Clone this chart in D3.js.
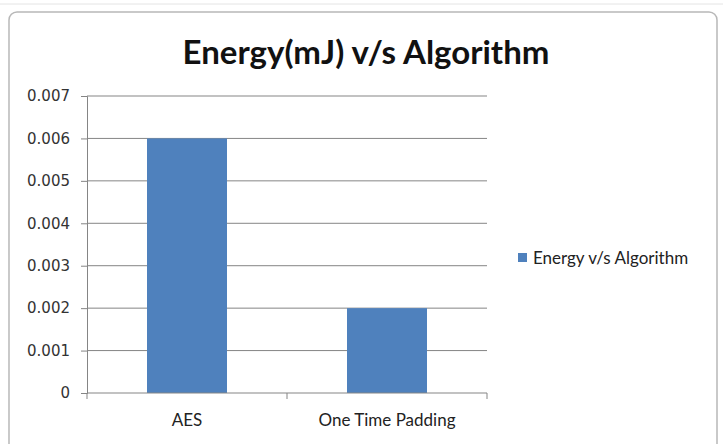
<!DOCTYPE html>
<html>
<head>
<meta charset="utf-8">
<script src="https://cdn.jsdelivr.net/npm/d3@7"></script>
<style>
  body { margin: 0; background: #fff; }
</style>
</head>
<body>
<svg id="chart" width="723" height="444"></svg>
<script>
var categories = [ "AES", "One Time Padding" ];
var energy = [ 0.006, 0.002 ];
var yTicks = [ 0, 0.001, 0.002, 0.003, 0.004, 0.005, 0.006, 0.007 ];
var seriesName = "Energy v/s Algorithm";
var title = "Energy(mJ) v/s Algorithm";

window.addEventListener( "load", makeChart );
function makeChart() {
    var svg = d3.select( "#chart" );
    var font = "Lato, 'Open Sans', sans-serif";

    // window strip + chart frame
    svg.append( "line" ).attr( "x1", 0 ).attr( "x2", 723 )
        .attr( "y1", 4 ).attr( "y2", 4 ).attr( "stroke", "#e4e4e4" );
    svg.append( "rect" ).attr( "x", 9 ).attr( "y", 12 )
        .attr( "width", 708 ).attr( "height", 440 ).attr( "rx", 8 )
        .attr( "fill", "#fff" ).attr( "stroke", "#b8b8b8" ).attr( "stroke-width", 1.5 );

    var sx = d3.scaleBand().domain( categories ).range( [87, 487] )
        .paddingInner( 0.6 ).paddingOuter( 0.3 );
    var sy = d3.scaleLinear().domain( [0, 0.007] ).range( [393, 96] );

    svg.append( "text" ).attr( "x", 366 ).attr( "y", 64 )
        .attr( "text-anchor", "middle" ).attr( "font-family", font )
        .attr( "font-weight", "bold" ).attr( "font-size", 33 ).attr( "fill", "#111" )
        .text( title );

    // gridlines
    svg.append( "g" ).selectAll( "line" ).data( yTicks.slice(1) ).enter()
        .append( "line" ).attr( "x1", 87 ).attr( "x2", 487 )
        .attr( "y1", d=>sy(d) ).attr( "y2", d=>sy(d) )
        .attr( "stroke", "#858585" ).attr( "stroke-width", 1 );

    // bars
    svg.append( "g" ).selectAll( "rect" ).data( energy ).enter()
        .append( "rect" )
        .attr( "x", (d,i)=>sx(categories[i]) ).attr( "width", sx.bandwidth() )
        .attr( "y", d=>sy(d) ).attr( "height", d=>sy(0)-sy(d) )
        .attr( "fill", "#4f81bd" );

    // y axis
    var yAx = svg.append( "g" ).attr( "transform", "translate(87,0)" )
        .call( d3.axisLeft( sy ).tickValues( yTicks ).tickSize( 6 ).tickPadding( 11 )
               .tickFormat( d=>d===0 ? "0" : d3.format( ".3f" )(d) ) );
    yAx.select( ".domain" ).attr( "stroke", "#858585" );
    yAx.selectAll( "line" ).attr( "stroke", "#858585" );
    yAx.selectAll( "text" ).attr( "font-family", "'DejaVu Sans', Verdana, sans-serif" )
        .attr( "font-size", 15 ).attr( "fill", "#333" );

    // x axis
    var xAx = svg.append( "g" ).attr( "transform", "translate(0,393)" )
        .call( d3.axisBottom( sx ).tickSize( 0 ).tickPadding( 21 ) );
    xAx.select( ".domain" ).attr( "stroke", "#858585" ).attr( "d", "M87,0H487" );
    xAx.selectAll( "text" ).attr( "font-family", font )
        .attr( "font-size", 17 ).attr( "fill", "#222" );
    var edges = [ 87 ].concat( categories.map( c=>sx(c)+sx.step()*0.7 ) );
    xAx.append( "g" ).selectAll( "line" ).data( edges ).enter()
        .append( "line" ).attr( "x1", d=>d ).attr( "x2", d=>d )
        .attr( "y1", 0 ).attr( "y2", 6 ).attr( "stroke", "#858585" );

    // legend
    var lg = svg.append( "g" ).attr( "transform", "translate(518,253)" );
    lg.append( "rect" ).attr( "width", 9 ).attr( "height", 9 ).attr( "fill", "#4f81bd" );
    lg.append( "text" ).attr( "x", 15 ).attr( "y", 11 )
        .attr( "font-family", font ).attr( "font-size", 17 )
        .attr( "fill", "#222" ).text( seriesName );
}
</script>
</body>
</html>
